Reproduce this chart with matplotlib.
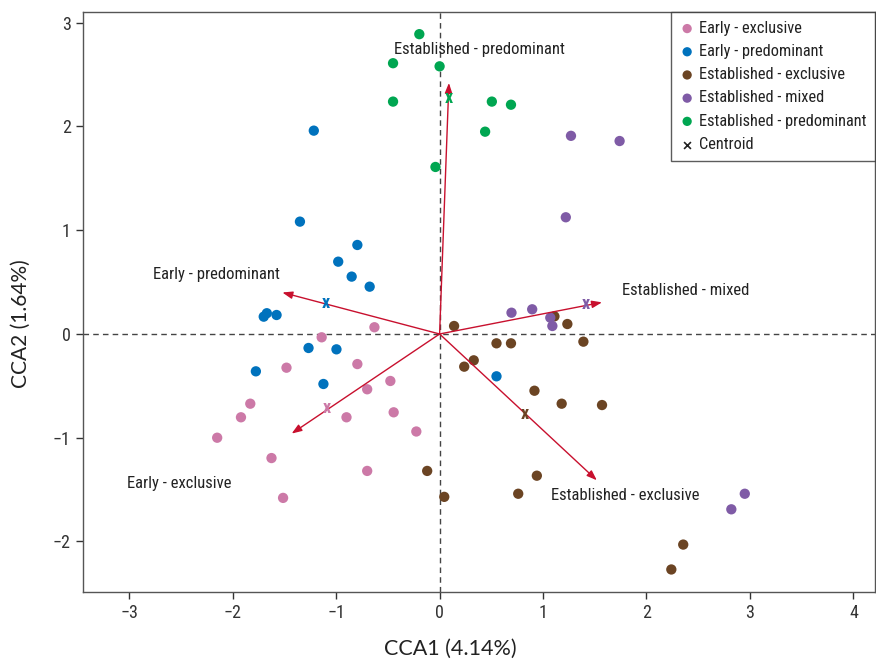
import matplotlib
matplotlib.use("Agg")
import matplotlib.pyplot as plt

plt.rcParams['font.family'] = ['Roboto Condensed', 'DejaVu Sans']

# ---- data ----
early_excl_x = [-0.63, -1.14, -1.48, -0.795, -0.476, -0.70, -1.83, -1.92, -0.444, -0.90, -0.225, -2.15, -1.625, -0.70, -1.513]
early_excl_y = [0.065, -0.032, -0.325, -0.29, -0.453, -0.533, -0.672, -0.803, -0.755, -0.803, -0.94, -1.0, -1.196, -1.32, -1.58]

early_pred_x = [-1.216, -1.35, -0.795, -0.98, -0.85, -0.676, -1.67, -1.70, -1.576, -1.267, -0.997, -1.776, -1.123, 0.55]
early_pred_y = [1.96, 1.083, 0.858, 0.697, 0.553, 0.456, 0.20, 0.167, 0.183, -0.135, -0.148, -0.36, -0.482, -0.408]

est_excl_x = [0.14, 1.11, 1.235, 0.55, 0.69, 1.39, 0.238, 0.33, 0.917, 1.18, 1.57, 0.94, 0.76, 0.045, 2.355, 2.24, -0.12]
est_excl_y = [0.077, 0.17, 0.096, -0.09, -0.09, -0.074, -0.315, -0.254, -0.547, -0.672, -0.685, -1.366, -1.54, -1.57, -2.03, -2.27, -1.32]

est_mixed_x = [1.27, 1.74, 1.22, 0.695, 0.895, 1.07, 1.09, 2.82, 2.95]
est_mixed_y = [1.91, 1.86, 1.125, 0.205, 0.238, 0.157, 0.077, -1.69, -1.54]

est_pred_x = [-0.196, -0.45, 0.0, -0.45, -0.04, 0.505, 0.69, 0.44]
est_pred_y = [2.89, 2.61, 2.58, 2.24, 1.61, 2.24, 2.21, 1.95]

groups = ["Early - exclusive", "Early - predominant", "Established - exclusive",
          "Established - mixed", "Established - predominant"]
colors = ["#CC79A7", "#0072BD", "#6B4423", "#7F5BA6", "#00A651"]

centroid_x = [-1.088, -1.10, 0.82, 1.41, 0.09]
centroid_y = [-0.71, 0.296, -0.775, 0.286, 2.27]

arrow_x = [-1.43, -1.52, 1.52, 1.57, 0.09]
arrow_y = [-0.96, 0.40, -1.41, 0.305, 2.42]

label_x = [-2.52, -2.16, 1.79, 2.38, 0.386]
label_y = [-1.44, 0.57, -1.56, 0.415, 2.74]

xs = [early_excl_x, early_pred_x, est_excl_x, est_mixed_x, est_pred_x]
ys = [early_excl_y, early_pred_y, est_excl_y, est_mixed_y, est_pred_y]

# ---- figure ----
fig = plt.figure(figsize=(8.76, 6.59), dpi=100)
ax = fig.add_axes([0.0944, 0.102, 0.9046, 0.880])

ax.axhline(0, color="#444444", lw=1.0, ls=(0, (4, 3)), zorder=1)
ax.axvline(0, color="#444444", lw=1.0, ls=(0, (4, 3)), zorder=1)

for gx, gy, g, c in zip(xs, ys, groups, colors):
    ax.scatter(gx, gy, s=55, color=c, edgecolors='none', label=g, zorder=3)

arrow_color = "#C8102E"
for axx, ayy in zip(arrow_x, arrow_y):
    ax.annotate("", xy=(axx, ayy), xytext=(0, 0),
                arrowprops=dict(arrowstyle="-|>,head_length=0.6,head_width=0.22",
                                color=arrow_color, lw=1.0, shrinkA=0, shrinkB=0),
                zorder=4)

for cx, cy, c in zip(centroid_x, centroid_y, colors):
    ax.text(cx, cy, "x", color=c, fontsize=13, fontweight='bold',
            ha='center', va='center', zorder=5)

for lx, ly, g in zip(label_x, label_y, groups):
    ax.text(lx, ly, g, fontsize=12, color="#222222", ha='center', va='center', zorder=6)

ax.scatter([], [], marker='x', color='#222222', s=30, linewidths=1.2, label="Centroid")
leg = ax.legend(loc='upper right', frameon=True, fancybox=False, fontsize=11.8,
                handletextpad=0.25, borderpad=0.55, labelspacing=0.5,
                borderaxespad=0.0, handlelength=0.9, markerscale=0.9)
leg.get_frame().set_edgecolor("#333333")
leg.get_frame().set_linewidth(1.0)
for t in leg.get_texts():
    t.set_color("#222222")

ax.set_xlim(-3.45, 4.21)
ax.set_ylim(-2.485, 3.105)
ax.set_xticks([-3, -2, -1, 0, 1, 2, 3, 4])
ax.set_yticks([-2, -1, 0, 1, 2, 3])
ax.set_xticklabels(["\u22123", "\u22122", "\u22121", "0", "1", "2", "3", "4"])
ax.set_yticklabels(["\u22122", "\u22121", "0", "1", "2", "3"])
ax.tick_params(axis='both', labelsize=13, colors="#333333", length=5, width=1.0)
for sp in ax.spines.values():
    sp.set_color("#555555")
    sp.set_linewidth(1.0)

ax.set_xlabel("CCA1 (4.14%)", fontsize=15.5, color="#222222", family=['Lato', 'DejaVu Sans'])
ax.set_ylabel("CCA2 (1.64%)", fontsize=15.0, color="#222222", family=['Lato', 'DejaVu Sans'])
ax.xaxis.set_label_coords(0.464, -0.082)
ax.yaxis.set_label_coords(-0.066, 0.462)

fig.savefig("out.png", dpi=100)
